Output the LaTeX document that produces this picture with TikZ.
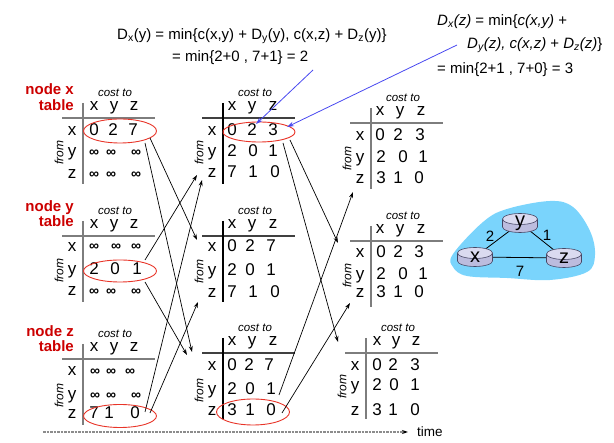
\documentclass[tikz,border=0pt]{standalone}
\usepackage{fontspec}
\setmainfont{Liberation Sans}
\usetikzlibrary{arrows.meta,shapes.geometric}
\definecolor{redlbl}{RGB}{204,0,0}
\definecolor{redell}{RGB}{232,52,40}
\definecolor{bluearr}{RGB}{72,72,240}
\definecolor{cloudc}{RGB}{122,212,252}
\definecolor{rtop}{RGB}{218,218,240}
\definecolor{rside}{RGB}{188,188,222}
\definecolor{rline}{RGB}{70,70,100}
\definecolor{tblgray}{RGB}{125,125,125}
\definecolor{timegray}{RGB}{140,140,140}
\tikzset{
 cell/.style={inner sep=0pt, text height=10pt, text depth=3pt, font=\fontsize{17}{17}\selectfont},
 inf/.style={inner sep=0pt, text height=7.6pt, text depth=0pt, font=\fontsize{14}{14}\selectfont\bfseries},
 costto/.style={inner sep=0pt, font=\fontsize{11.5}{11.5}\selectfont\itshape},
 fromlbl/.style={inner sep=0pt, rotate=90, font=\fontsize{12}{12}\selectfont\itshape},
 tblh/.style={draw=tblgray, line width=1.8pt},
 tblv/.style={draw=tblgray, line width=1.8pt},
 nodelbl/.style={inner sep=0pt, anchor=east, text height=11pt, text depth=3pt, text=redlbl, font=\fontsize{15}{15}\selectfont\bfseries},
 sel/.style={draw=redell, line width=0.9pt, ellipse, inner sep=0pt},
 msg/.style={draw=black, line width=0.7pt, -{Stealth[length=6pt,width=4pt]}},
 blu/.style={draw=bluearr, line width=0.8pt, -{Stealth[length=7pt,width=4.5pt]}},
 formula/.style={inner sep=0pt, anchor=west, text height=11pt, text depth=3.5pt, font=\fontsize{15}{15}\selectfont},
 routerlbl/.style={inner sep=0pt, font=\fontsize{20}{20}\selectfont},
 edgelbl/.style={inner sep=0pt, font=\fontsize{15}{15}\selectfont},
 timeax/.style={draw=timegray, line width=1.3pt, dash pattern=on 2.5pt off 1pt, -{Stealth[length=6pt,width=4pt,color=black]}},
}
\newcommand\dvframe[9]{%
 \draw[tblh] (#2-21,#3) -- (#2+72,#3);
 \draw[tblv] (#2,#3-15) -- (#2,#3+66);
 \node[costto] (#1ct) at (#2+32,#3-25) {cost to};
 \node[cell] (#1hx) at (#4,#3-11) {x};
 \node[cell] (#1hy) at (#5,#3-11) {y};
 \node[cell] (#1hz) at (#6,#3-11) {z};
 \node[cell] (#1rx) at (#2-11,#7) {x};
 \node[cell] (#1ry) at (#2-11,#8) {y};
 \node[cell] (#1rz) at (#2-11,#9) {z};
 \node[fromlbl] (#1fr) at (#2-24,#8) {from};
}
\newcommand\dvrow[8]{%
 \node[cell] (#1a) at (#3,#2) {#4};
 \node[cell] (#1b) at (#5,#2) {#6};
 \node[cell] (#1c) at (#7,#2) {#8};
}
\newcommand\dvinf[5]{%
 \node[inf] (#1a) at (#3,#2) {∞};
 \node[inf] (#1b) at (#4,#2) {∞};
 \node[inf] (#1c) at (#5,#2) {∞};
}
\newcommand\dvrouter[4]{%
 \filldraw[fill=rside, draw=rline, line width=0.6pt] (#2,#3+4) ellipse [x radius=17.5, y radius=5.5];
 \fill[rside] (#2-17.5,#3-4) rectangle (#2+17.5,#3+4);
 \draw[rline, line width=0.6pt] (#2-17.5,#3-4) -- (#2-17.5,#3+4) (#2+17.5,#3-4) -- (#2+17.5,#3+4);
 \filldraw[fill=rtop, draw=rline, line width=0.6pt] (#2,#3-4) ellipse [x radius=17.5, y radius=5.5];
 \node[routerlbl] (#1) at (#2,#3) {#4};
}
\begin{document}
\begin{tikzpicture}[x=1pt,y=-1pt]
\useasboundingbox (0,0) rectangle (614,443);

% formulas
\node[formula] (f1a) at (117,36) {D\textsubscript{x}(y) = min\{c(x,y) + D\textsubscript{y}(y), c(x,z) + D\textsubscript{z}(y)\}};
\node[formula] (f1b) at (172,58) {= min\{2+0 , 7+1\} = 2};
\node[formula] (f2a) at (437,22) {\textit{D\textsubscript{x}(z)} = min\{\textit{c(x,y)} +};
\node[formula] (f2b) at (467,45) {\textit{D\textsubscript{y}(z), c(x,z)} + \textit{D\textsubscript{z}(z)}\}};
\node[formula] (f2c) at (437,70) {= min\{2+1 , 7+0\} = 3};

% node labels
\node[nodelbl] (lx1) at (74,91) {node x};
\node[nodelbl] (lx2) at (74,107) {table};
\node[nodelbl] (ly1) at (74,208) {node y};
\node[nodelbl] (ly2) at (74,223) {table};
\node[nodelbl] (lz1) at (74,333) {node z};
\node[nodelbl] (lz2) at (74,348) {table};

% left column
\dvframe{L1}{83}{118}{94}{114}{134}{132}{153}{175}
\dvrow{L1x}{132}{94}{0}{113}{2}{133}{7}
\dvinf{L1y}{153}{94}{111}{136}
\dvinf{L1z}{175}{94}{111}{136}
\dvframe{L2}{83}{236}{94}{114}{134}{248}{271}{292}
\dvinf{L2x}{247}{94}{116}{136}
\dvrow{L2y}{271}{94}{2}{115}{0}{137}{1}
\dvinf{L2z}{292}{94}{111}{136}
\dvframe{L3}{83}{359}{94}{114}{134}{372}{396}{415}
\dvinf{L3x}{372}{95}{111}{130}
\dvinf{L3y}{396}{95}{111}{136}
\dvrow{L3z}{415}{94}{7}{109}{1}{135}{0}

% middle column
\begin{scope}[tblv/.append style={draw=black}, tblh/.append style={draw=black!75}]
\dvframe{M1}{223}{118}{232}{252}{273}{132}{153}{174}
\dvrow{M1x}{132}{232}{0}{252}{2}{273}{3}
\dvrow{M1y}{153}{232}{2}{253}{0}{273}{1}
\dvrow{M1z}{174}{232}{7}{253}{1}{275}{0}
\dvframe{M2}{223}{236}{232}{252}{273}{248}{272}{294}
\dvrow{M2x}{248}{232}{0}{250}{2}{271}{7}
\dvrow{M2y}{272}{232}{2}{250}{0}{271}{1}
\dvrow{M2z}{294}{232}{7}{253}{1}{275}{0}
\dvframe{M3}{223}{353}{232}{252}{273}{367}{391}{412}
\dvrow{M3x}{367}{232}{0}{249}{2}{269}{7}
\dvrow{M3y}{391}{232}{2}{250}{0}{271}{1}
\dvrow{M3z}{412}{232}{3}{250}{1}{271}{0}
\end{scope}

% right column
\dvframe{R1}{371}{123}{380}{400}{421}{137}{159}{180}
\dvrow{R1x}{137}{380}{0}{398}{2}{420}{3}
\dvrow{R1y}{159}{381}{2}{403}{0}{423}{1}
\dvrow{R1z}{180}{381}{3}{398}{1}{419}{0}
\dvframe{R2}{371}{241}{380}{400}{421}{254}{276}{294}
\dvrow{R2x}{254}{381}{0}{398}{2}{419}{3}
\dvrow{R2y}{276}{381}{2}{403}{0}{423}{1}
\dvrow{R2z}{294}{381}{3}{398}{1}{419}{0}
\dvframe{R3}{366}{353}{377}{396}{416}{367}{387}{412}
\dvrow{R3x}{367}{377}{0}{393}{2}{415}{3}
\dvrow{R3y}{387}{377}{2}{394}{0}{415}{1}
\dvrow{R3z}{412}{377}{3}{393}{1}{415}{0}

% red ellipses
\node[sel, minimum width=73pt, minimum height=24pt] (ex1) at (120,131) {};
\node[sel, minimum width=73pt, minimum height=22pt] (ey1) at (120,271) {};
\node[sel, minimum width=73pt, minimum height=23pt] (ez1) at (120,416) {};
\node[sel, minimum width=72pt, minimum height=20pt] (ex2) at (259,132) {};
\node[sel, minimum width=73pt, minimum height=26pt] (ez2) at (253,412) {};

% message arrows, column 1 -> 2
\coordinate (a1s) at (150,138); \coordinate (a1e) at (197,240);
\coordinate (a2s) at (145,143); \coordinate (a2e) at (192,352);
\coordinate (a3s) at (145,260); \coordinate (a3e) at (197,175);
\coordinate (a4s) at (145,282); \coordinate (a4e) at (187,355);
\coordinate (a5s) at (145,412); \coordinate (a5e) at (202,180);
\coordinate (a6s) at (150,413); \coordinate (a6e) at (198,302);
\draw[msg] (a1s) -- (a1e);
\draw[msg] (a2s) -- (a2e);
\draw[msg] (a3s) -- (a3e);
\draw[msg] (a4s) -- (a4e);
\draw[msg] (a5s) -- (a5e);
\draw[msg] (a6s) -- (a6e);
% column 2 -> 3
\coordinate (b1s) at (290,140); \coordinate (b1e) at (338,243);
\coordinate (b2s) at (283,143); \coordinate (b2e) at (338,342);
\coordinate (b3s) at (279,395); \coordinate (b3e) at (353,192);
\coordinate (b4s) at (282,413); \coordinate (b4e) at (350,303);
\draw[msg] (b1s) -- (b1e);
\draw[msg] (b2s) -- (b2e);
\draw[msg] (b3s) -- (b3e);
\draw[msg] (b4s) -- (b4e);

% blue pointers
\coordinate (c1s) at (313,70); \coordinate (c1e) at (256,124);
\coordinate (c2s) at (457,45); \coordinate (c2e) at (287,127);
\draw[blu] (c1s) -- (c1e);
\draw[blu] (c2s) -- (c2e);

% time axis
\node[inner sep=0pt, anchor=west, text height=9pt, text depth=0pt, font=\fontsize{13.5}{13.5}\selectfont] (time) at (417,432) {time};
\coordinate (t0) at (43,432);
\coordinate (t1) at (408,432);
\draw[timeax] (t0) -- (t1);

% network
\fill[cloudc] plot[smooth cycle, tension=0.6] coordinates {(453,254) (483,222) (507,209) (550,201) (573,207) (590,231) (595,255) (587,272) (550,280) (507,278) (467,276) (453,267)};
\coordinate (rxc) at (475,257);
\coordinate (ryc) at (520,223);
\coordinate (rzc) at (564,258);
\draw[black, line width=0.8pt] (rxc) -- (ryc);
\draw[black, line width=0.8pt] (ryc) -- (rzc);
\draw[black, line width=0.8pt] (rxc) -- (rzc);
\dvrouter{rx}{475}{257}{x}
\dvrouter{ry}{520}{223}{y}
\dvrouter{rz}{564}{258}{z}
\node[edgelbl] (w2) at (490,236) {2};
\node[edgelbl] (w1) at (547,235) {1};
\node[edgelbl] (w7) at (520,271) {7};
\end{tikzpicture}
\end{document}
